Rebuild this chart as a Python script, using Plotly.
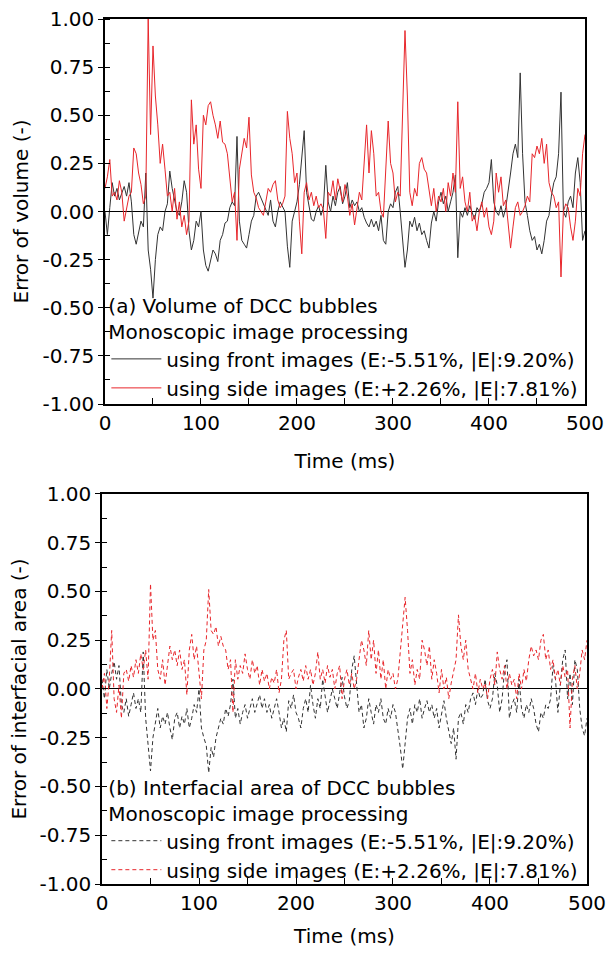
import numpy as np
import plotly.graph_objects as go

# time axis (ms), 2.5 ms sampling
time_ms = np.arange(0, 500.1, 2.5)

# (a) error of bubble volume (-)
vol_front = [
    0.00, -0.12, 0.02, 0.15, 0.08, 0.12, 0.06, 0.10, 0.13, 0.08, 0.15, 0.05, -0.12, -0.17, -0.10, -0.05, -0.08, 0.20, -0.20, -0.30,
    -0.45, -0.25, -0.12, -0.08, -0.10, 0.00, 0.04, 0.21, 0.12, 0.06, 0.00, -0.02, 0.05, 0.16, 0.10, -0.10, -0.20, -0.15, -0.05, -0.08,
    0.00, -0.20, -0.28, -0.31, -0.25, -0.20, -0.22, -0.26, -0.15, -0.12, -0.06, -0.05, 0.02, 0.05, 0.03, 0.39, -0.05, -0.15, -0.17, -0.19,
    -0.12, -0.05, -0.02, 0.08, 0.10, 0.07, 0.05, 0.02, -0.02, 0.06, -0.05, -0.08, 0.00, 0.05, 0.02, 0.00, -0.18, -0.29, -0.05, 0.00,
    0.05, 0.14, 0.30, 0.42, 0.10, 0.02, -0.04, -0.05, 0.00, 0.03, -0.02, 0.02, 0.24, 0.05, 0.00, 0.08, 0.03, 0.10, 0.13, 0.04,
    0.08, 0.15, 0.02, 0.06, 0.03, 0.05, 0.00, 0.02, -0.03, -0.06, -0.08, -0.04, -0.08, -0.05, -0.10, -0.02, -0.15, -0.17, 0.00, 0.04,
    0.02, 0.10, 0.13, 0.00, -0.15, -0.29, -0.20, -0.05, -0.08, -0.03, -0.10, -0.06, -0.12, -0.10, -0.15, -0.19, -0.06, 0.00, -0.05, 0.05,
    0.10, 0.04, 0.08, 0.00, 0.05, 0.10, 0.19, -0.24, 0.00, -0.03, 0.02, -0.02, 0.03, 0.00, -0.04, 0.02, 0.00, 0.04, 0.10, 0.12,
    0.15, 0.27, 0.05, 0.00, -0.02, 0.03, -0.03, 0.02, 0.10, 0.20, 0.30, 0.35, 0.28, 0.72, 0.30, 0.05, -0.02, -0.10, -0.15, -0.13,
    -0.20, -0.17, -0.22, -0.15, -0.05, -0.02, 0.08, 0.15, 0.18, 0.30, 0.62, 0.00, -0.03, 0.05, 0.08, 0.02, 0.20, 0.28, 0.15, -0.15,
    -0.10,
]
vol_side = [
    0.12, 0.18, 0.27, 0.08, 0.10, 0.06, 0.16, 0.10, -0.05, 0.02, 0.08, 0.10, 0.33, 0.30, 0.20, 0.14, 0.04, 0.08, 1.00, 0.40,
    0.86, 0.60, 0.45, 0.25, 0.35, 0.22, 0.08, 0.10, 0.00, 0.12, -0.04, 0.05, -0.08, -0.02, -0.12, -0.05, 0.58, 0.35, 0.45, 0.22,
    0.12, 0.50, 0.45, 0.55, 0.57, 0.50, 0.45, 0.38, 0.47, 0.36, 0.35, 0.30, 0.16, 0.05, 0.10, -0.15, 0.22, 0.30, 0.38, 0.33,
    0.49, 0.19, 0.10, 0.07, 0.02, 0.00, -0.02, 0.05, 0.12, 0.10, 0.14, 0.16, 0.06, 0.02, 0.04, 0.08, 0.52, 0.38, 0.30, 0.15,
    0.20, -0.05, -0.22, 0.10, 0.15, 0.06, 0.10, 0.03, 0.08, 0.02, 0.04, 0.01, -0.14, 0.10, 0.08, 0.16, 0.06, 0.17, 0.10, 0.05,
    0.14, 0.08, -0.02, 0.04, -0.07, 0.03, 0.10, 0.06, 0.25, 0.45, 0.20, 0.42, 0.30, 0.08, 0.10, 0.00, -0.03, 0.20, 0.47, 0.25,
    0.20, 0.05, 0.10, 0.08, 0.55, 0.94, 0.60, 0.10, 0.03, 0.12, 0.08, 0.25, 0.28, 0.22, 0.20, 0.10, 0.03, 0.12, 0.00, 0.08,
    0.05, 0.12, 0.00, 0.15, 0.08, 0.20, 0.10, 0.57, 0.12, 0.18, 0.05, 0.00, 0.10, -0.05, -0.02, -0.10, 0.00, 0.05, -0.03, 0.02,
    -0.08, -0.12, -0.05, 0.20, 0.10, 0.18, 0.03, 0.06, -0.05, -0.19, -0.08, 0.02, 0.05, -0.02, 0.00, 0.03, 0.08, 0.05, 0.30, 0.28,
    0.34, 0.30, 0.38, 0.25, 0.35, 0.15, 0.10, 0.08, 0.02, 0.05, -0.34, 0.00, 0.04, 0.02, -0.08, -0.15, -0.05, 0.12, 0.08, 0.30,
    0.40,
]

# (b) error of interfacial area (-)
area_front = [
    0.05, -0.05, 0.10, 0.00, 0.08, 0.14, 0.05, 0.12, -0.08, -0.12, -0.05, -0.14, -0.08, -0.02, -0.10, -0.05, -0.12, 0.19, -0.15, -0.30,
    -0.42, -0.25, -0.18, -0.10, -0.20, -0.14, -0.18, -0.12, -0.20, -0.26, -0.15, -0.12, -0.20, -0.14, -0.18, -0.10, -0.20, -0.15, -0.08, -0.12,
    0.00, -0.20, -0.25, -0.29, -0.43, -0.30, -0.35, -0.25, -0.20, -0.15, -0.18, -0.10, -0.14, -0.08, 0.05, -0.15, -0.10, -0.18, -0.12, -0.08,
    -0.15, -0.10, -0.05, -0.12, -0.08, -0.03, -0.10, -0.05, -0.12, -0.08, -0.15, -0.10, -0.05, -0.12, -0.20, -0.15, -0.22, -0.06, -0.10, -0.03,
    -0.12, -0.15, -0.20, -0.10, -0.05, -0.12, 0.02, -0.08, -0.15, -0.05, -0.10, 0.05, -0.03, -0.12, -0.06, 0.00, -0.05, -0.10, -0.02, 0.06,
    -0.04, -0.10, -0.06, 0.10, 0.17, 0.02, -0.12, -0.08, -0.20, -0.15, -0.05, -0.12, -0.18, -0.08, -0.12, -0.05, -0.15, -0.18, -0.10, -0.15,
    -0.08, -0.12, -0.20, -0.30, -0.41, -0.28, -0.15, -0.10, -0.18, -0.08, -0.12, -0.05, -0.15, -0.10, -0.06, -0.12, -0.08, -0.15, -0.10, -0.20,
    -0.12, -0.06, -0.15, -0.22, -0.28, -0.20, -0.36, -0.15, -0.12, -0.18, -0.08, -0.12, -0.05, -0.02, -0.08, 0.00, -0.05, -0.03, 0.05, -0.06,
    -0.10, -0.05, 0.08, 0.02, -0.12, -0.05, 0.10, 0.15, -0.15, -0.08, -0.05, -0.12, 0.05, -0.10, -0.15, -0.08, -0.12, -0.05, -0.10, -0.18,
    -0.22, -0.12, -0.15, -0.08, -0.10, -0.05, 0.12, 0.05, -0.12, 0.02, 0.15, 0.20, -0.05, 0.08, -0.08, 0.15, 0.10, -0.10, -0.20, -0.24,
    -0.15,
]
area_side = [
    0.00, 0.08, -0.10, 0.05, 0.30, -0.05, -0.12, 0.02, -0.15, 0.08, 0.10, 0.04, 0.12, 0.06, 0.15, 0.08, 0.18, 0.10, 0.20, 0.05,
    0.54, 0.25, 0.30, 0.10, 0.05, 0.15, 0.02, 0.12, 0.22, 0.15, 0.20, 0.12, 0.20, 0.10, 0.15, -0.03, 0.20, 0.28, 0.15, 0.22,
    0.10, -0.05, 0.20, 0.25, 0.51, 0.30, 0.28, 0.32, 0.22, 0.27, 0.22, 0.20, 0.10, 0.15, -0.12, 0.15, 0.05, 0.12, 0.08, 0.18,
    0.10, 0.05, 0.15, 0.08, 0.12, 0.02, 0.10, 0.04, 0.08, 0.00, 0.06, 0.03, 0.10, -0.02, 0.05, 0.25, 0.30, 0.05, 0.08, 0.10,
    0.00, 0.06, 0.10, 0.04, 0.12, 0.05, 0.10, 0.02, 0.08, 0.19, 0.05, 0.10, 0.03, 0.12, 0.06, 0.10, 0.00, 0.08, 0.12, -0.05,
    0.05, 0.10, 0.02, 0.08, 0.00, 0.05, 0.15, 0.25, 0.20, 0.12, 0.30, 0.15, 0.25, 0.08, 0.20, 0.05, 0.15, 0.00, 0.10, 0.05,
    0.08, 0.00, 0.05, 0.20, 0.35, 0.47, 0.30, 0.08, 0.15, 0.02, 0.10, 0.05, 0.25, 0.20, 0.12, 0.22, 0.05, 0.15, 0.08, -0.02,
    0.10, 0.00, 0.06, -0.05, 0.03, 0.10, 0.15, 0.38, 0.22, 0.15, 0.25, 0.10, 0.05, 0.00, 0.08, -0.02, 0.05, 0.00, 0.03, -0.05,
    0.05, 0.10, 0.02, 0.19, 0.10, 0.05, 0.12, 0.00, 0.08, 0.02, 0.05, -0.05, 0.08, 0.00, 0.10, 0.04, 0.15, 0.22, 0.17, 0.20,
    0.15, 0.25, 0.28, 0.15, 0.20, 0.10, 0.15, 0.05, 0.10, 0.02, 0.12, 0.06, 0.10, -0.20, 0.05, 0.12, 0.00, 0.08, 0.20, 0.15,
    0.25,
]

# tick labels (plain hyphen as in the original figure)
y_tickvals = [-1.0, -0.75, -0.5, -0.25, 0.0, 0.25, 0.5, 0.75, 1.0]
y_ticktext = ["-1.00", "-0.75", "-0.50", "-0.25", "0.00", "0.25", "0.50", "0.75", "1.00"]
x_tickvals = [0, 100, 200, 300, 400, 500]
x_ticktext = ["0", "100", "200", "300", "400", "500"]

front_label = "using front images (E:-5.51%, |E|:9.20%)"
side_label = "using side images (E:+2.26%, |E|:7.81%)"

BLACK = "#333333"
RED = "#e8262b"
FONT = "DejaVu Sans, Arial, sans-serif"
FS = 20

fig = go.Figure()

# top panel: volume
fig.add_trace(go.Scatter(x=time_ms, y=vol_front, mode="lines", name=front_label,
                         line=dict(color=BLACK, width=1), legend="legend"))
fig.add_trace(go.Scatter(x=time_ms, y=vol_side, mode="lines", name=side_label,
                         line=dict(color=RED, width=1), legend="legend"))

# bottom panel: interfacial area
fig.add_trace(go.Scatter(x=time_ms, y=area_front, mode="lines", name=front_label,
                         line=dict(color=BLACK, width=1, dash="4px,3px"),
                         xaxis="x2", yaxis="y2", legend="legend2"))
fig.add_trace(go.Scatter(x=time_ms, y=area_side, mode="lines", name=side_label,
                         line=dict(color=RED, width=1, dash="4px,3px"),
                         xaxis="x2", yaxis="y2", legend="legend2"))

tick_font = dict(family=FONT, size=FS, color="black")
title_font = dict(family=FONT, size=FS, color="black")

def xaxis_style(domain, anchor, standoff):
    return dict(domain=domain, anchor=anchor, range=[0, 500], automargin=False,
                tickvals=x_tickvals, ticktext=x_ticktext, ticklabeloverflow="allow",
                showline=True, linecolor="black", linewidth=1.5, mirror=True,
                ticks="inside", ticklen=6, tickwidth=1.3, tickcolor="black",
                minor=dict(tickvals=[50, 150, 250, 350, 450], ticks="inside", ticklen=6,
                           tickwidth=1.3, tickcolor="black"),
                showgrid=False, zeroline=False, tickfont=tick_font,
                title=dict(text="Time (ms)", font=title_font, standoff=standoff))

def yaxis_style(domain, anchor, title):
    return dict(domain=domain, anchor=anchor, range=[-1, 1], automargin=False,
                tickvals=y_tickvals, ticktext=y_ticktext,
                showline=True, linecolor="black", linewidth=1.5, mirror=True,
                ticks="outside", ticklen=5, tickwidth=1.3, tickcolor="black",
                minor=dict(dtick=0.125, ticks="inside", ticklen=5, tickwidth=1.3, tickcolor="black"),
                showgrid=False, zeroline=True, zerolinecolor="black", zerolinewidth=1,
                tickfont=tick_font,
                title=dict(text=title, font=title_font, standoff=8))

def top_axis(over, anchor):
    return dict(overlaying=over, anchor=anchor, side="top", range=[0, 500], automargin=False,
                showline=False, showticklabels=False, showgrid=False, zeroline=False,
                tickvals=[50, 100, 150, 200, 250, 300, 350, 400, 450],
                ticks="inside", ticklen=6, tickwidth=1.3, tickcolor="black")

def right_axis(over, anchor):
    return dict(overlaying=over, anchor=anchor, side="right", range=[-1, 1], automargin=False,
                showline=False, showticklabels=False, showgrid=False, zeroline=False,
                dtick=0.125, ticks="inside", ticklen=6, tickwidth=1.3, tickcolor="black")

legend_common = dict(
    xanchor="left", yanchor="bottom", bgcolor="rgba(0,0,0,0)",
    font=dict(family=FONT, size=FS, color="black"),
    tracegroupgap=0, itemwidth=50,
)

fig.update_layout(
    width=606, height=953,
    margin=dict(l=100, r=17, t=19, b=69),
    plot_bgcolor="white", paper_bgcolor="white",
    showlegend=True,
    xaxis=xaxis_style([0.0102, 0.9918], "y", 20),
    yaxis=yaxis_style([0.5549, 1.0], "x", "Error of volume (-)"),
    xaxis2=xaxis_style([0.0041, 0.9959], "y2", 15),
    yaxis2=yaxis_style([0.0, 0.4509], "x2", "Error of interfacial area (-)"),
    xaxis3=top_axis("x", "y"),
    yaxis3=right_axis("y", "x"),
    xaxis4=top_axis("x2", "y2"),
    yaxis4=right_axis("y2", "x2"),
    legend=dict(x=0.013, y=0.551,
                title=dict(text="(a) Volume of DCC bubbles<br>Monoscopic image processing",
                           font=dict(family=FONT, size=FS, color="black")),
                **legend_common),
    legend2=dict(x=0.013, y=-0.006,
                 title=dict(text="(b) Interfacial area of DCC bubbles<br>Monoscopic image processing",
                            font=dict(family=FONT, size=FS, color="black")),
                 **legend_common),
)

# the page body has a default 8px margin; drop it so the figure fills the window exactly
fig.write_html("out.html", config={"displayModeBar": False},
               post_script="document.body.style.margin='0px';")
